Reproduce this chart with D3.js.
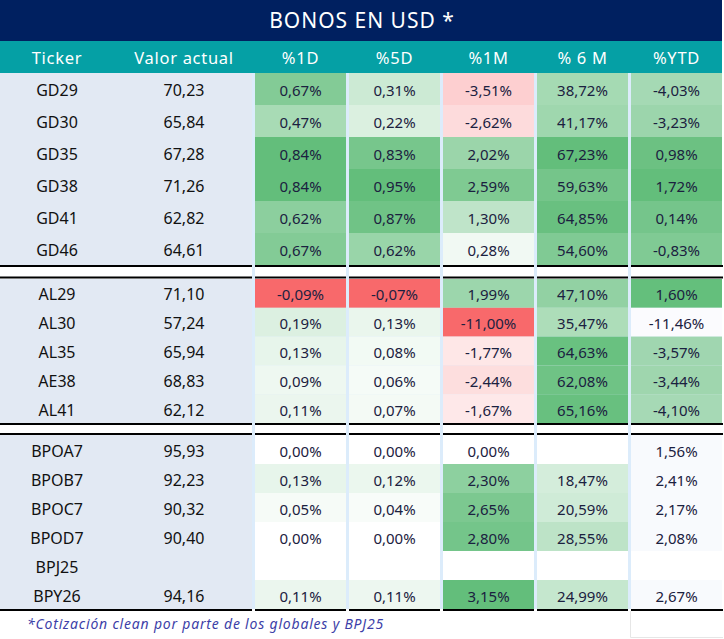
<!DOCTYPE html>
<html><head><meta charset="utf-8">
<script src="https://cdn.jsdelivr.net/npm/d3@7/dist/d3.min.js"></script>
<style>body{margin:0;background:#fff}svg{display:block}</style>
</head><body>
<script>
const title = "BONOS EN USD *";
const headers = ["Ticker","Valor actual","%1D","%5D","%1M","% 6 M","%YTD"];
const footnote = "*Cotización clean por parte de los globales y BPJ25";
const groups = ["GD","AL","BP"];
const tickers = ["GD29","GD30","GD35","GD38","GD41","GD46","AL29","AL30","AL35","AE38","AL41","BPOA7","BPOB7","BPOC7","BPOD7","BPJ25","BPY26"];
const rowGroup = ["GD","GD","GD","GD","GD","GD","AL","AL","AL","AL","AL","BP","BP","BP","BP","BP","BP"];
const valor = [70.23,65.84,67.28,71.26,62.82,64.61,71.10,57.24,65.94,68.83,62.12,95.93,92.23,90.32,90.40,null,94.16];
const pct1D = [0.67,0.47,0.84,0.84,0.62,0.67,-0.09,0.19,0.13,0.09,0.11,0.00,0.13,0.05,0.00,null,0.11];
const pct5D = [0.31,0.22,0.83,0.95,0.87,0.62,-0.07,0.13,0.08,0.06,0.07,0.00,0.12,0.04,0.00,null,0.11];
const pct1M = [-3.51,-2.62,2.02,2.59,1.30,0.28,1.99,-11.00,-1.77,-2.44,-1.67,0.00,2.30,2.65,2.80,null,3.15];
const pct6M = [38.72,41.17,67.23,59.63,64.85,54.60,47.10,35.47,64.63,62.08,65.16,null,18.47,20.59,28.55,null,24.99];
const pctYTD = [-4.03,-3.23,0.98,1.72,0.14,-0.83,1.60,-11.46,-3.57,-3.44,-4.10,1.56,2.41,2.17,2.08,null,2.67];

const W = 724, H = 639;
const svg = d3.select("body").append("svg").attr("width", W).attr("height", H);
const font = "'Noto Sans', 'Open Sans', sans-serif";
const loc = d3.formatLocale({decimal:",", thousands:".", grouping:[3], currency:["$",""], minus:"-"});
const f2 = loc.format(".2f");

const NAVY = "#002060", TEAL = "#05a0a5", TICKBG = "#e2e9f3", GAP = "#dcecfb";
const RED = "#F8696B", GREEN = "#63BE7B";

const cols = [pct1D, pct5D, pct1M, pct6M, pctYTD];
const colNames = headers.slice(2);
const x = d3.scaleBand().domain(colNames).range([252, 722]).paddingInner(3/94).paddingOuter(3/188).align(1);

const groupLayout = {GD:[73,265], AL:[279,423], BP:[435,609]};
const rowsIdx = d3.range(tickers.length);
const yScales = {};
groups.forEach(g => {
  const idx = rowsIdx.filter(i => rowGroup[i] === g);
  yScales[g] = d3.scaleBand().domain(idx).range(groupLayout[g]);
});
const yRow = i => yScales[rowGroup[i]](i);
const hRow = i => yScales[rowGroup[i]].bandwidth();

function divScale(vals){
  const v = vals.filter(d => d != null);
  const mn = d3.min(v), mx = d3.max(v);
  const neg = d3.scaleLinear().domain([mn, 0]).range([RED, "#ffffff"]).interpolate(d3.interpolateRgb).clamp(true);
  const pos = d3.scaleLinear().domain([0, mx]).range(["#ffffff", GREEN]).interpolate(d3.interpolateRgb).clamp(true);
  return d => d == null ? "#ffffff" : (d < 0 ? neg(d) : pos(d));
}
const ytdVals = pctYTD.filter((d,i) => d != null && rowGroup[i] !== "BP");
const ytdScale = d3.scaleLinear().domain(d3.extent(ytdVals)).range(["#fbfbfe", GREEN]).interpolate(d3.interpolateRgb);
const colorFns = [divScale(pct1D), divScale(pct5D), divScale(pct1M), divScale(pct6M),
  (d, i) => d == null ? "#ffffff" : (rowGroup[i] === "BP" ? "#f8fafd" : ytdScale(d))];

svg.append("rect").attr("x", 252).attr("y", 73).attr("width", 470).attr("height", 536).attr("fill", GAP);
[[265,279],[423,435]].forEach(([a,b]) => {
  svg.append("rect").attr("x",0).attr("y",a).attr("width",252).attr("height",b-a).attr("fill","#fff");
  colNames.forEach(c => svg.append("rect").attr("x",x(c)).attr("y",a).attr("width",x.bandwidth()).attr("height",b-a).attr("fill","#fff"));
});
groups.forEach(g => {
  const [a,b] = groupLayout[g];
  svg.append("rect").attr("x",0).attr("y",a).attr("width",252).attr("height",b-a).attr("fill",TICKBG);
});

svg.append("rect").attr("x",0).attr("y",0).attr("width",722).attr("height",41).attr("fill",NAVY);
svg.append("text").attr("x",362).attr("y",20).attr("text-anchor","middle").attr("dominant-baseline","central")
  .attr("font-family",font).attr("font-size",21).attr("letter-spacing",1).attr("fill","#fff").text(title);
svg.append("rect").attr("x",0).attr("y",41).attr("width",722).attr("height",32).attr("fill",TEAL);
const headX = [57, 184].concat(colNames.map(c => x(c) + x.bandwidth()/2));
headers.forEach((h,j) => svg.append("text").attr("x",headX[j]).attr("y",57).attr("text-anchor","middle")
  .attr("dominant-baseline","central").attr("font-family",font).attr("font-size",16.5).attr("letter-spacing",0.7)
  .attr("fill","#fff").text(h));

cols.forEach((vals, j) => {
  const c = colNames[j];
  const g = svg.append("g");
  g.selectAll("rect").data(rowsIdx).join("rect")
    .attr("x", x(c)).attr("y", i => yRow(i)).attr("width", x.bandwidth()).attr("height", i => hRow(i))
    .attr("fill", i => colorFns[j](vals[i], i));
  g.selectAll("text").data(rowsIdx.filter(i => vals[i] != null)).join("text")
    .attr("x", x(c) + x.bandwidth()/2).attr("y", i => yRow(i) + hRow(i)/2 + 1)
    .attr("text-anchor","middle").attr("dominant-baseline","central")
    .attr("font-family",font).attr("font-size",15).attr("fill","#1b2140")
    .text(i => f2(vals[i]) + "%");
});
svg.append("g").selectAll("text").data(rowsIdx).join("text")
  .attr("x",57).attr("y", i => yRow(i) + hRow(i)/2 + 1).attr("text-anchor","middle").attr("dominant-baseline","central")
  .attr("font-family",font).attr("font-size",16).attr("fill","#111").text(i => tickers[i]);
svg.append("g").selectAll("text").data(rowsIdx.filter(i => valor[i] != null)).join("text")
  .attr("x",184).attr("y", i => yRow(i) + hRow(i)/2 + 1).attr("text-anchor","middle").attr("dominant-baseline","central")
  .attr("font-family",font).attr("font-size",16).attr("fill","#111").text(i => f2(valor[i]));

const segs = [[0,252]].concat(colNames.map(c => [x(c), x(c)+x.bandwidth()]));
segs[segs.length-1][1] = 723;
[266, 277.5, 424, 434, 610].forEach(yy => segs.forEach(([a,b]) =>
  svg.append("line").attr("x1",a).attr("x2",b).attr("y1",yy).attr("y2",yy).attr("stroke","#000").attr("stroke-width",2.2)));

svg.append("path").attr("d","M630.5,611V637.5H723").attr("fill","none").attr("stroke","#e6e6e6");

svg.append("text").attr("x",27).attr("y",629).attr("font-family",font).attr("font-style","italic")
  .attr("font-size",14).attr("letter-spacing",0.8).attr("fill","#3d3fa8").text(footnote);
</script>
</body></html>
